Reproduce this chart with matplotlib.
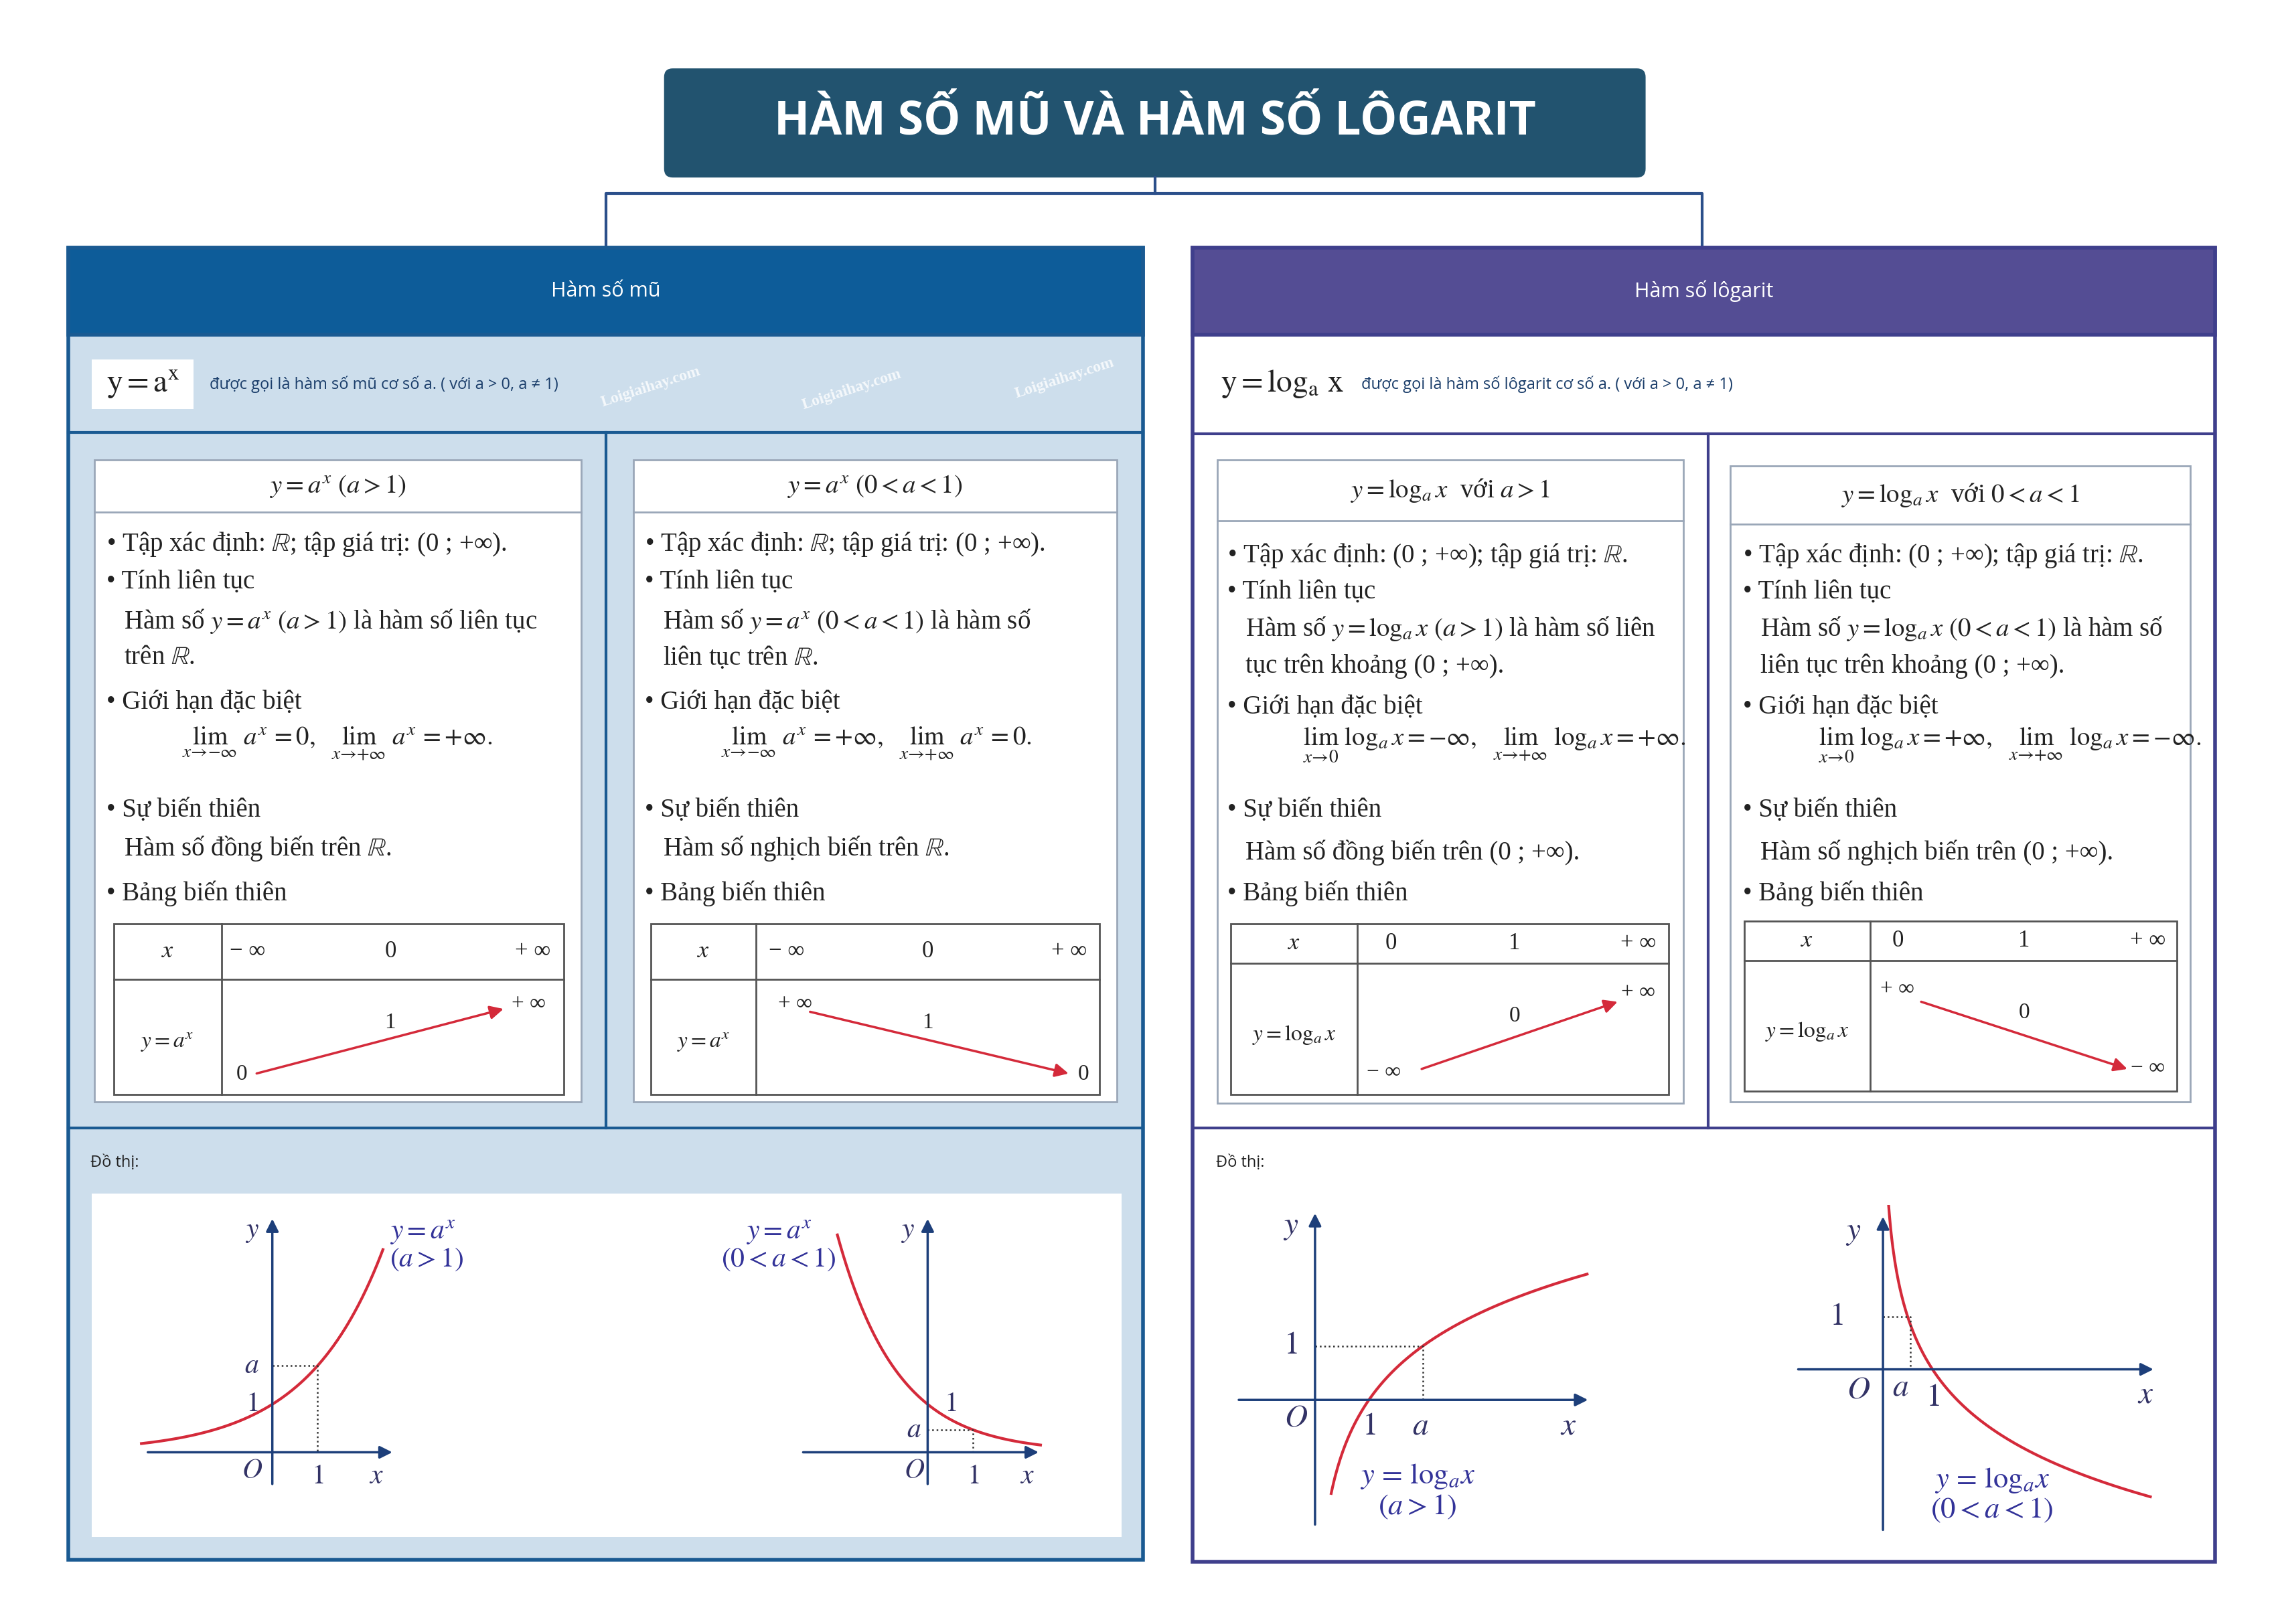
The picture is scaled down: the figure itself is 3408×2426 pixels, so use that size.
import numpy as np
import matplotlib
matplotlib.use("Agg")
import matplotlib.pyplot as plt
from matplotlib.patches import Rectangle, FancyBboxPatch

plt.rcParams["font.family"] = ["Liberation Serif", "DejaVu Serif"]
plt.rcParams["mathtext.fontset"] = "stix"

W, H = 1567, 1116  # working canvas units
SANS = ["Open Sans", "DejaVu Sans"]

title = "HÀM SỐ MŨ VÀ HÀM SỐ LÔGARIT"
left_head = "Hàm số mũ"
right_head = "Hàm số lôgarit"
left_def = "được gọi là hàm số mũ cơ số a. ( với a > 0, a ≠ 1)"
right_def = "được gọi là hàm số lôgarit cơ số a. ( với a > 0, a ≠ 1)"

card_exp1 = [
    ("• Tập xác định: $\\mathbb{R}$; tập giá trị: (0 ; +∞).", 0),
    ("• Tính liên tục", 0),
    ("Hàm số $y = a^x\\ (a > 1)$ là hàm số liên tục", 1),
    ("trên $\\mathbb{R}$.", 1),
    ("• Giới hạn đặc biệt", 0),
    ("$\\lim_{x\\to-\\infty}\\ a^x = 0,\\ \\ \\lim_{x\\to+\\infty}\\ a^x = +\\infty.$", 2),
    ("• Sự biến thiên", 0),
    ("Hàm số đồng biến trên $\\mathbb{R}$.", 1),
    ("• Bảng biến thiên", 0),
]
card_exp2 = [
    ("• Tập xác định: $\\mathbb{R}$; tập giá trị: (0 ; +∞).", 0),
    ("• Tính liên tục", 0),
    ("Hàm số $y = a^x\\ (0 < a < 1)$ là hàm số", 1),
    ("liên tục trên $\\mathbb{R}$.", 1),
    ("• Giới hạn đặc biệt", 0),
    ("$\\lim_{x\\to-\\infty}\\ a^x = +\\infty,\\ \\ \\lim_{x\\to+\\infty}\\ a^x = 0.$", 2),
    ("• Sự biến thiên", 0),
    ("Hàm số nghịch biến trên $\\mathbb{R}$.", 1),
    ("• Bảng biến thiên", 0),
]
card_log1 = [
    ("• Tập xác định: (0 ; +∞); tập giá trị: $\\mathbb{R}$.", 0),
    ("• Tính liên tục", 0),
    ("Hàm số $y = \\log_a x\\ (a > 1)$ là hàm số liên", 1),
    ("tục trên khoảng (0 ; +∞).", 1),
    ("• Giới hạn đặc biệt", 0),
    ("$\\lim_{x\\to 0}\\ \\log_a x = -\\infty,\\ \\ \\lim_{x\\to+\\infty}\\ \\log_a x = +\\infty.$", 2),
    ("• Sự biến thiên", 0),
    ("Hàm số đồng biến trên (0 ; +∞).", 1),
    ("• Bảng biến thiên", 0),
]
card_log2 = [
    ("• Tập xác định: (0 ; +∞); tập giá trị: $\\mathbb{R}$.", 0),
    ("• Tính liên tục", 0),
    ("Hàm số $y = \\log_a x\\ (0 < a < 1)$ là hàm số", 1),
    ("liên tục trên khoảng (0 ; +∞).", 1),
    ("• Giới hạn đặc biệt", 0),
    ("$\\lim_{x\\to 0}\\ \\log_a x = +\\infty,\\ \\ \\lim_{x\\to+\\infty}\\ \\log_a x = -\\infty.$", 2),
    ("• Sự biến thiên", 0),
    ("Hàm số nghịch biến trên (0 ; +∞).", 1),
    ("• Bảng biến thiên", 0),
]
line_y_exp = [374, 400, 427, 452, 483, 511, 557, 583, 614]
line_y_log = [382, 407, 432, 458, 486, 512, 557, 586, 614]

# graph parameters: base a, x range of the curve
a_exp1, xr_exp1 = 1.8, (-2.9, 2.45)
a_exp2, xr_exp2 = 0.47, (-2.0, 2.5)
a_log1, xr_log1 = 2.0, (0.3, 5.05)
a_log2, xr_log2 = 0.5, (0.04, 5.4)

RED = "#d42a3a"

fig = plt.figure(figsize=(34.08, 24.26), dpi=100)
ax = fig.add_axes([0, 0, 1, 1])
ax.set_xlim(0, W)
ax.set_ylim(H, 0)
ax.axis("off")


def rect(x0, y0, x1, y1, fc="none", ec="none", lw=3, z=1):
    ax.add_patch(Rectangle((x0, y0), x1 - x0, y1 - y0, facecolor=fc, edgecolor=ec, lw=lw, zorder=z))


def txt(x, y, s, size=28, ha="left", color="#222222", **kw):
    ax.text(x, y, s, fontsize=size, ha=ha, va="center", color=color, zorder=5, **kw)


# --- title and connectors
ax.add_patch(FancyBboxPatch((456, 47), 674, 75, boxstyle="round,pad=0,rounding_size=6",
                            facecolor="#22536f", edgecolor="none", zorder=2))
txt(793, 84, title, size=50, ha="center", color="white", family=SANS, fontweight="bold")
ax.plot([793, 793], [122, 133], color="#2b4f8a", lw=3)
ax.plot([416, 416, 1169, 1169], [170, 133, 133, 170], color="#2b4f8a", lw=3)

# --- left panel
LB = "#1a5a92"
rect(47, 170, 785, 1072, fc="#cddeec", ec=LB, lw=4)
rect(47, 170, 785, 230, fc="#0d5c99", ec=LB, lw=4, z=2)
txt(416, 200, left_head, size=22, ha="center", color="white", family=SANS)
ax.plot([47, 785], [297, 297], color=LB, lw=3)
ax.plot([47, 785], [775, 775], color=LB, lw=3)
ax.plot([416, 416], [297, 775], color=LB, lw=3)
rect(63, 247, 133, 281, fc="white")
txt(98, 264, "$\\mathrm{y = a^x}$", size=34, ha="center")
txt(144, 264, left_def, size=17, color="#1a3d6a", family=SANS)
for wx, wy in [(447, 266), (585, 268), (731, 260)]:
    ax.text(wx, wy, "Loigiaihay.com", rotation=18, fontsize=17, color="white", ha="center",
            va="center", fontweight="bold", alpha=0.8, zorder=4)

# --- right panel
RB = "#3f3f8c"
rect(819, 170, 1521, 1073, fc="white", ec=RB, lw=4)
rect(819, 170, 1521, 230, fc="#544d94", ec=RB, lw=4, z=2)
txt(1170, 200, right_head, size=22, ha="center", color="white", family=SANS)
ax.plot([819, 1521], [298, 298], color=RB, lw=3)
ax.plot([819, 1521], [775, 775], color=RB, lw=3)
ax.plot([1173, 1173], [298, 775], color=RB, lw=3)
txt(838, 264, "$\\mathrm{y = log_a\\ x}$", size=34)
txt(935, 264, right_def, size=17, color="#1a3d6a", family=SANS)


def card(x0, y0, x1, y1, hdr_y, head, lines, ys, tx0):
    rect(x0, y0, x1, y1, fc="white", ec="#9aa7b8", lw=2)
    ax.plot([x0, x1], [hdr_y, hdr_y], color="#9aa7b8", lw=2)
    txt((x0 + x1) / 2, (y0 + hdr_y) / 2, head, size=28, ha="center")
    for (s, ind), y in zip(lines, ys):
        txt(tx0 + [0, 12, 52][ind], y, s)


card(65, 316, 399, 757, 352, "$y = a^x\\ (a > 1)$", card_exp1, line_y_exp, 73)
card(435, 316, 767, 757, 352, "$y = a^x\\ (0 < a < 1)$", card_exp2, line_y_exp, 443)
card(836, 316, 1156, 758, 358, "$y = \\log_a x$  với $a > 1$", card_log1, line_y_log, 843)
card(1188, 320, 1504, 757, 360, "$y = \\log_a x$  với $0 < a < 1$", card_log2, line_y_log, 1197)


def var_table(x0, y0, x1, y1, hy, cx, heads, ylab, vals, arrow):
    rect(x0, y0, x1, y1, fc="none", ec="#555555", lw=2)
    ax.plot([x0, x1], [hy, hy], color="#555555", lw=2)
    ax.plot([cx, cx], [y0, y1], color="#555555", lw=2)
    txt((x0 + cx) / 2, (y0 + hy) / 2, "$x$", size=26, ha="center")
    txt((x0 + cx) / 2, (hy + y1) / 2 + 4, ylab, size=24, ha="center")
    for hx, s in heads:
        txt(hx, (y0 + hy) / 2, s, size=25, ha="center")
    for vx, vy, s in vals:
        txt(vx, vy, s, size=24, ha="center")
    ax.annotate("", xy=arrow[1], xytext=arrow[0],
                arrowprops=dict(arrowstyle="-|>", color=RED, lw=2.5, mutation_scale=30), zorder=5)


var_table(78, 635, 387, 752, 673, 152, [(170, "− ∞"), (268, "0"), (366, "+ ∞")], "$y = a^x$",
          [(166, 738, "0"), (268, 703, "1"), (363, 690, "+ ∞")], ((175, 738), (347, 693)))
var_table(447, 635, 755, 752, 673, 519, [(540, "− ∞"), (637, "0"), (734, "+ ∞")], "$y = a^x$",
          [(546, 690, "+ ∞"), (637, 703, "1"), (744, 738, "0")], ((555, 695), (735, 738)))
var_table(845, 635, 1146, 752, 662, 932, [(955, "0"), (1040, "1"), (1125, "+ ∞")], "$y = \\log_a x$",
          [(950, 737, "− ∞"), (1040, 698, "0"), (1125, 682, "+ ∞")], ((975, 735), (1112, 688)))
var_table(1198, 633, 1495, 750, 660, 1284, [(1303, "0"), (1390, "1"), (1475, "+ ∞")], "$y = \\log_a x$",
          [(1303, 680, "+ ∞"), (1390, 696, "0"), (1475, 734, "− ∞")], ((1318, 688), (1462, 735)))

# --- graph areas
txt(62, 799, "Đồ thị:", size=17, family=SANS)
txt(835, 799, "Đồ thị:", size=17, family=SANS)
rect(63, 820, 770, 1056, fc="white")


def graph(ox, oy, sx, sy, box):
    # box: display x0, x1, y_top, y_bottom ; data origin at (ox, oy)
    bx0, bx1, bt, bb = box
    gax = fig.add_axes([bx0 / W, 1 - bb / H, (bx1 - bx0) / W, (bb - bt) / H])
    gax.set_xlim((bx0 - ox) / sx, (bx1 - ox) / sx)
    gax.set_ylim((oy - bb) / sy, (oy - bt) / sy)
    gax.axis("off")
    gax.patch.set_alpha(0)
    return gax


def axes_arrows(g, xa, xb, ya, yb):
    kw = dict(arrowstyle="-|>", color="#1d3f7a", lw=2.5, mutation_scale=28)
    g.annotate("", xy=(xb, 0), xytext=(xa, 0), arrowprops=kw)
    g.annotate("", xy=(0, yb), xytext=(0, ya), arrowprops=kw)


MS = 30  # math label size
# graph 1: y = a^x, a > 1
g = graph(187, 998, 31, 33, (90, 280, 828, 1032))
axes_arrows(g, -2.8, 2.7, -0.7, 4.9)
xs = np.linspace(*xr_exp1, 200)
g.plot(xs, a_exp1 ** xs, color=RED, lw=3)
g.plot([0, 1, 1], [a_exp1, a_exp1, 0], ":", color="#333333", lw=1.8)
for x, y, s in [(-0.45, 4.6, "$y$"), (-0.45, -0.4, "$O$"), (1.0, -0.5, "$1$"), (2.3, -0.5, "$x$"),
                (-0.45, 1.0, "$1$"), (-0.45, a_exp1, "$a$")]:
    g.text(x, y, s, fontsize=MS, ha="center", va="center", color="#333366")
g.text(2.6, 4.3, "$y = a^x$\n$(a > 1)$", fontsize=MS, color="#333399", va="center", linespacing=1.0)

# graph 2: y = a^x, 0 < a < 1
g = graph(637, 998, 31, 33, (470, 725, 828, 1032))
axes_arrows(g, -2.8, 2.5, -0.7, 4.9)
xs = np.linspace(*xr_exp2, 200)
g.plot(xs, a_exp2 ** xs, color=RED, lw=3)
g.plot([0, 1, 1], [a_exp2, a_exp2, 0], ":", color="#333333", lw=1.8)
for x, y, s in [(-0.45, 4.6, "$y$"), (-0.3, -0.4, "$O$"), (1.0, -0.5, "$1$"), (2.2, -0.5, "$x$"),
                (0.5, 1.0, "$1$"), (-0.3, 0.45, "$a$")]:
    g.text(x, y, s, fontsize=MS, ha="center", va="center", color="#333366")
g.text(-3.3, 4.3, "$y = a^x$\n$(0 < a < 1)$", fontsize=MS, color="#333399", va="center",
       ha="center", linespacing=1.0)

# graph 3: y = log_a x, a > 1
g = graph(903, 962, 37, 37, (840, 1100, 828, 1058))
axes_arrows(g, -1.45, 5.1, -2.35, 3.5)
xs = np.linspace(*xr_log1, 200)
g.plot(xs, np.log(xs) / np.log(a_log1), color=RED, lw=3)
g.plot([0, a_log1, a_log1], [1, 1, 0], ":", color="#333333", lw=1.8)
for x, y, s in [(-0.45, 3.2, "$y$"), (-0.35, -0.35, "$O$"), (1.0, -0.5, "$1$"), (1.95, -0.5, "$a$"),
                (4.7, -0.5, "$x$"), (-0.45, 1.0, "$1$")]:
    g.text(x, y, s, fontsize=MS + 4, ha="center", va="center", color="#333366")
g.text(1.9, -1.7, "$y\\,=\\,\\log_a\\!x$\n$(a > 1)$", fontsize=MS + 2, color="#333399", va="center",
       ha="center", linespacing=1.1)

# graph 4: y = log_a x, 0 < a < 1
g = graph(1293, 941, 34, 36, (1225, 1495, 828, 1058))
axes_arrows(g, -1.75, 5.5, -3.1, 2.95)
xs = np.linspace(*xr_log2, 300)
g.plot(xs, np.log(xs) / np.log(a_log2), color=RED, lw=3)
g.plot([0, a_log2 + 0.05, a_log2 + 0.05], [1, 1, 0], ":", color="#333333", lw=1.8)
for x, y, s in [(-0.6, 2.6, "$y$"), (-0.5, -0.4, "$O$"), (0.35, -0.35, "$a$"), (1.0, -0.55, "$1$"),
                (5.3, -0.5, "$x$"), (-0.95, 1.0, "$1$")]:
    g.text(x, y, s, fontsize=MS + 4, ha="center", va="center", color="#333366")
g.text(2.2, -2.4, "$y\\,=\\,\\log_a\\!x$\n$(0 < a < 1)$", fontsize=MS + 2, color="#333399",
       va="center", ha="center", linespacing=1.1)

fig.savefig("out.png", dpi=100, facecolor="white")
